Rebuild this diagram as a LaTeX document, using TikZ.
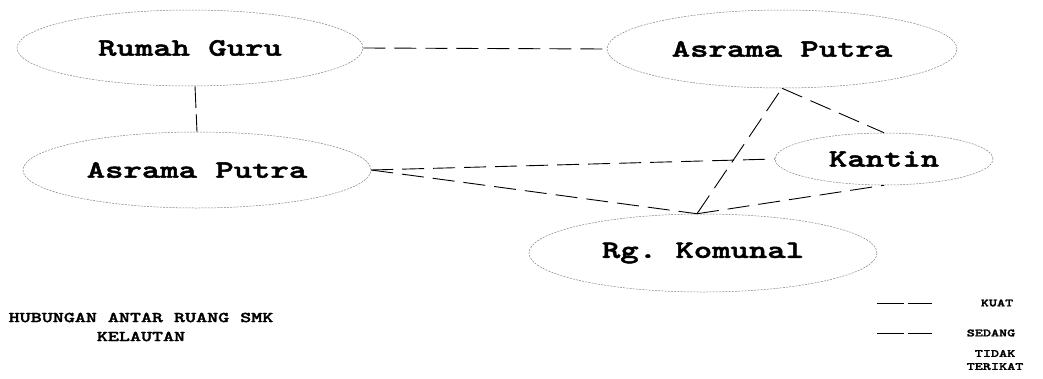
\documentclass[tikz,border=0pt]{standalone}
\usepackage{fontspec}
\newfontfamily\labfont[FakeStretch=1.4, FakeBold=2]{Latin Modern Mono Light}
\usetikzlibrary{shapes.geometric}
\begin{document}
\begin{tikzpicture}[x=1pt,y=-1pt,
  room/.style={ellipse, draw=black!50, line width=0.5pt, dash pattern=on 2pt off 1.2pt,
    inner sep=0pt, font=\labfont\bfseries\fontsize{25}{30}\selectfont},
  rel/.style={draw=black, line width=0.9pt, dash pattern=on 22pt off 9pt},
  strong/.style={draw=black, line width=0.9pt, dash pattern=on 22pt off 6pt},
  legline/.style={draw=black, line width=0.8pt, dash pattern=on 27pt off 4pt},
  legtext/.style={inner sep=0pt, font=\labfont\bfseries\fontsize{11}{13}\selectfont},
  title/.style={inner sep=0pt, align=center, font=\labfont\bfseries\fontsize{15}{19}\selectfont},
]
\useasboundingbox (0,0) rectangle (1043,378);
\node[room, minimum width=346, minimum height=76] (rg) at (190,48) {Rumah Guru};
\node[room, minimum width=350, minimum height=78] (apt) at (782,49) {Asrama Putra};
\node[room, minimum width=348, minimum height=76] (apl) at (197,170) {Asrama Putra};
\node[room, minimum width=218, minimum height=52] (kan) at (884,159) {Kantin};
\node[room, minimum width=348, minimum height=78] (kom) at (703,253) {Rg.\ Komunal};

\draw[strong] ([xshift=5pt]rg.south) -- (apl.north);
\draw[rel] (rg.east) -- (apt.west);
\draw[rel] (apl.east) -- (kan.west);
\draw[rel] (apl.east) -- ([xshift=-6pt]kom.north);
\draw[rel] ([xshift=-6pt]kom.north) -- (apt.south);
\draw[rel] (apt.south) -- (kan.north);
\draw[rel] ([xshift=-6pt]kom.north) -- (kan.south);

\node[title] (ttl) at (141,327) {HUBUNGAN ANTAR RUANG SMK\\KELAUTAN};

\coordinate (k1) at (877,303);
\coordinate (k2) at (932,303);
\coordinate (s1) at (877,333);
\coordinate (s2) at (932,333);
\draw[legline] (k1) -- (k2);
\draw[legline] (s1) -- (s2);
\node[legtext] (kuat) at (997,303) {KUAT};
\node[legtext] (sedang) at (991,333) {SEDANG};
\node[legtext, align=center] (tidak) at (995,360) {TIDAK\\TERIKAT};
\end{tikzpicture}
\end{document}
